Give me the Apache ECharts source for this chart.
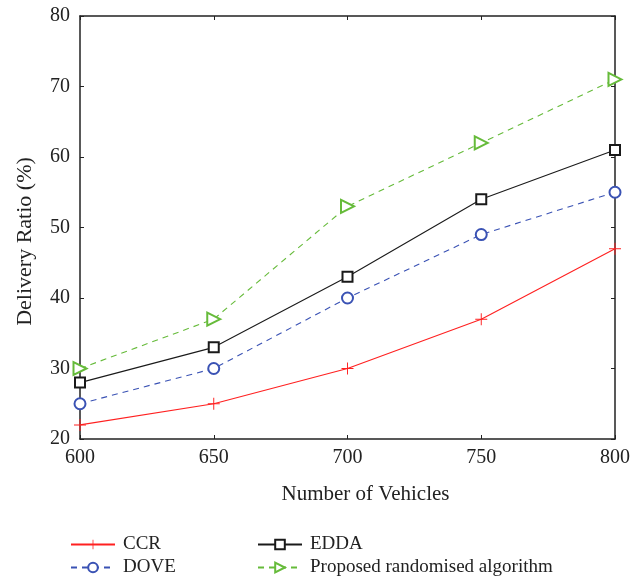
<!DOCTYPE html>
<html>
<head>
<meta charset="utf-8">
<script src="https://cdn.jsdelivr.net/npm/echarts@6/dist/echarts.min.js"></script>
<style>
html,body{margin:0;padding:0;background:#fff;}
#chart{width:635px;height:584px;}
</style>
</head>
<body>
<div id="chart"></div>
<script>
// Delivery ratio (%) versus number of vehicles
const vehicles = [600, 650, 700, 750, 800];
const ccr = [22, 25, 30, 37, 47];
const dove = [25, 30, 40, 49, 55];
const edda = [28, 33, 43, 54, 61];
const proposed = [30, 37, 53, 62, 71];
const seriesNames = ['CCR', 'DOVE', 'EDDA', 'Proposed randomised algorithm'];

const FONT = '"Liberation Serif", "DejaVu Serif", serif';
const plusPath = 'path://M4.6,0h0.8v4.6h4.6v0.8h-4.6v4.6h-0.8v-4.6h-4.6v-0.8h4.6z';

function pairs(vals) {
  return vehicles.map((v, i) => [v, vals[i]]);
}

const chart = echarts.init(document.getElementById('chart'));

const axisLine = { show: true, lineStyle: { color: '#222', width: 1.5 } };
const tickIn = { show: true, inside: true, length: 4, lineStyle: { color: '#222', width: 1 } };

function legendAt(name, left, top) {
  return {
    data: [name], left: left, top: top,
    itemWidth: 44, itemHeight: 12,
    textStyle: { fontFamily: FONT, fontSize: 19, color: '#222', padding: [0, 0, 0, 3] }
  };
}

chart.setOption({
  animation: false,
  backgroundColor: '#fff',
  textStyle: { fontFamily: FONT },
  grid: { left: 80, top: 16, width: 535, height: 423, containLabel: false },
  legend: [
    legendAt(seriesNames[0], 65, 530),
    legendAt(seriesNames[1], 65, 553),
    legendAt(seriesNames[2], 252, 530),
    legendAt(seriesNames[3], 252, 553)
  ],
  xAxis: [
    {
      type: 'value', min: 600, max: 800, interval: 50,
      axisLine: axisLine, axisTick: tickIn, splitLine: { show: false },
      axisLabel: { fontFamily: FONT, fontSize: 20, color: '#222', margin: 9 },
      name: 'Number of Vehicles', nameLocation: 'middle', nameGap: 45,
      nameTextStyle: { fontFamily: FONT, fontSize: 21, color: '#222', padding: [0, 0, 0, 36] }
    },
    {
      type: 'value', position: 'top', min: 600, max: 800, interval: 50,
      axisLine: axisLine, axisTick: tickIn, axisLabel: { show: false },
      splitLine: { show: false }
    }
  ],
  yAxis: [
    {
      type: 'value', min: 20, max: 80, interval: 10,
      axisLine: axisLine, axisTick: tickIn, splitLine: { show: false },
      axisLabel: { fontFamily: FONT, fontSize: 20, color: '#222', margin: 10 },
      name: 'Delivery Ratio (%)', nameLocation: 'middle', nameGap: 44,
      nameTextStyle: { fontFamily: FONT, fontSize: 22, color: '#222', padding: [0, 28, 0, 0] }
    },
    {
      type: 'value', position: 'right', min: 20, max: 80, interval: 10,
      axisLine: axisLine, axisTick: tickIn, axisLabel: { show: false },
      splitLine: { show: false }
    }
  ],
  series: [
    {
      name: seriesNames[0], type: 'line', data: pairs(ccr), clip: false,
      symbol: plusPath, symbolSize: 12,
      lineStyle: { color: '#ff2020', width: 1.1 },
      itemStyle: { color: '#ff2020' }
    },
    {
      name: seriesNames[1], type: 'line', data: pairs(dove), clip: false,
      symbol: 'emptyCircle', symbolSize: 11,
      lineStyle: { color: '#3a52b4', width: 1.1, type: [6, 5] },
      itemStyle: { color: '#3a52b4', borderWidth: 1.1 }
    },
    {
      name: seriesNames[2], type: 'line', data: pairs(edda), clip: false,
      symbol: 'emptyRect', symbolSize: 10,
      lineStyle: { color: '#1a1a1a', width: 1.1 },
      itemStyle: { color: '#1a1a1a', borderWidth: 1.1 }
    },
    {
      name: seriesNames[3], type: 'line', data: pairs(proposed), clip: false,
      symbol: 'emptyTriangle', symbolSize: 13, symbolRotate: -90,
      lineStyle: { color: '#66bb3a', width: 1.1, type: [6, 5] },
      itemStyle: { color: '#66bb3a', borderWidth: 1.1 }
    }
  ]
});
</script>
</body>
</html>
